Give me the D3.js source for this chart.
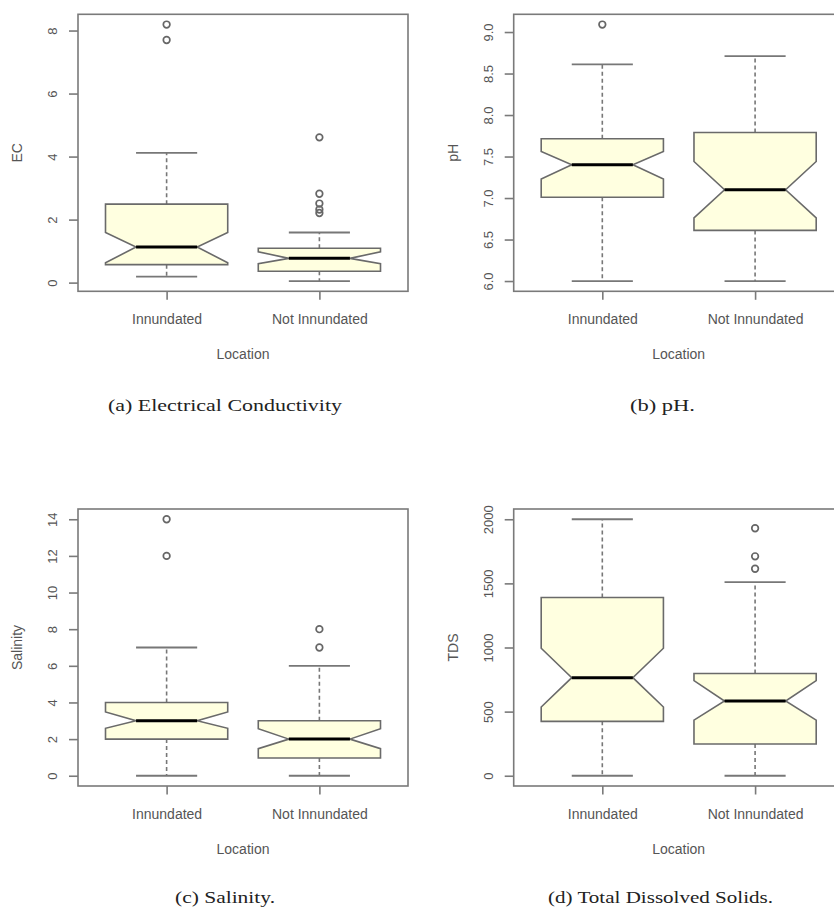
<!DOCTYPE html>
<html>
<head>
<meta charset="utf-8">
<script src="https://cdn.jsdelivr.net/npm/d3@7"></script>
<style>
  html, body { margin: 0; padding: 0; background: #fff; }
  svg { display: block; }
  .lab { font-family: "Liberation Sans", Arial, sans-serif; font-size: 14px; fill: #555; }
  .cap { font-family: "Liberation Serif", "DejaVu Serif", serif; font-size: 16px; fill: #222; }
</style>
</head>
<body>
<svg id="chart" width="834" height="909"></svg>
<script>
// ---- data ----
const locations = ["Innundated", "Not Innundated"];
// stats per group: [lowerWhisker, Q1, median, Q3, upperWhisker, notchLow, notchHigh]
const ecStats  = [[0.19, 0.57, 1.13, 2.49, 4.12, 0.63, 1.59],
                  [0.05, 0.36, 0.77, 1.09, 1.59, 0.60, 0.98]];
const ecOutliers = [[8.19, 7.70], [4.61, 2.82, 2.51, 2.32, 2.21]];
const ecTicks = [0, 2, 4, 6, 8];
const ecTickLabels = ["0", "2", "4", "6", "8"];

const phStats  = [[6.00, 7.01, 7.40, 7.715, 8.61, 7.23, 7.56],
                  [6.00, 6.61, 7.10, 7.79, 8.71, 6.76, 7.44]];
const phOutliers = [[9.09], []];
const phTicks = [6.0, 6.5, 7.0, 7.5, 8.0, 8.5, 9.0];
const phTickLabels = ["6.0", "6.5", "7.0", "7.5", "8.0", "8.5", "9.0"];

const salStats = [[0, 2, 3, 4, 7, 2.59, 3.48],
                  [0, 0.97, 2, 3, 6, 1.48, 2.57]];
const salOutliers = [[14, 12], [8, 7]];
const salTicks = [0, 2, 4, 6, 8, 10, 12, 14];
const salTickLabels = ["0", "2", "4", "6", "8", "10", "12", "14"];

const tdsStats = [[0, 424, 765, 1390, 2000, 536, 994],
                  [0, 247, 583, 797, 1510, 434, 742]];
const tdsOutliers = [[], [1930, 1711, 1614]];
const tdsTicks = [0, 500, 1000, 1500, 2000];
const tdsTickLabels = ["0", "500", "1000", "1500", "2000"];

const yTitles = ["EC", "pH", "Salinity", "TDS"];
const xTitle = "Location";
const captions = ["(a) Electrical Conductivity", "(b) pH.", "(c) Salinity.", "(d) Total Dissolved Solids."];

// ---- layout ----
const svg = d3.select("#chart");
const panels = [
  {stats: ecStats,  out: ecOutliers,  ticks: ecTicks,  labels: ecTickLabels,  left: 78,    top: 14.3,  cap: {x: 108, w: 234, y: 411}},
  {stats: phStats,  out: phOutliers,  ticks: phTicks,  labels: phTickLabels,  left: 513.7, top: 14.3,  cap: {x: 630, w: 65,  y: 411}},
  {stats: salStats, out: salOutliers, ticks: salTicks, labels: salTickLabels, left: 78,    top: 509,   cap: {x: 175, w: 100, y: 903}},
  {stats: tdsStats, out: tdsOutliers, ticks: tdsTicks, labels: tdsTickLabels, left: 513.7, top: 509,   cap: {x: 548, w: 225, y: 902.5}}
];
const PW = 330, PH = 277;
const frameCol = "#7a7a7a", boxCol = "#6a6a6a", whiskCol = "#777";

panels.forEach((p, i) => {
  const g = svg.append("g");
  const L = p.left, R = p.left + PW, T = p.top, B = p.top + PH;

  // y range: data range extended by 4% (as R does)
  const allVals = p.stats.flatMap(s => [s[0], s[4]]).concat(p.out.flat());
  const mn = d3.min(allVals), mx = d3.max(allVals), ext = (mx - mn) * 0.04;
  const y = d3.scaleLinear().domain([mn - ext, mx + ext]).range([B, T]);
  const x = d3.scaleLinear().domain([0.42, 2.58]).range([L, R]);
  const unit = x(1) - x(0);
  const hw = 0.4 * unit, cw = 0.2 * unit, nw = 0.2 * unit;

  // boxes
  p.stats.forEach((s, k) => {
    const cx = x(k + 1);
    const [lo, q1, med, q3, hi, nlo, nhi] = s;
    // whiskers
    g.append("line").attr("x1", cx).attr("x2", cx).attr("y1", y(q3)).attr("y2", y(hi))
      .attr("stroke", whiskCol).attr("stroke-width", 1.6).attr("stroke-dasharray", "4,3");
    g.append("line").attr("x1", cx).attr("x2", cx).attr("y1", y(q1)).attr("y2", y(lo))
      .attr("stroke", whiskCol).attr("stroke-width", 1.6).attr("stroke-dasharray", "4,3");
    [lo, hi].forEach(v => g.append("line").attr("x1", cx - cw).attr("x2", cx + cw)
      .attr("y1", y(v)).attr("y2", y(v)).attr("stroke", whiskCol).attr("stroke-width", 1.8));
    // notched box
    const pts = [[cx - hw, y(q1)], [cx - hw, y(nlo)], [cx - nw, y(med)], [cx - hw, y(nhi)], [cx - hw, y(q3)],
                 [cx + hw, y(q3)], [cx + hw, y(nhi)], [cx + nw, y(med)], [cx + hw, y(nlo)], [cx + hw, y(q1)]];
    g.append("polygon").attr("points", pts.map(d => d.join(",")).join(" "))
      .attr("fill", "#ffffe0").attr("stroke", boxCol).attr("stroke-width", 1.6);
    g.append("line").attr("x1", cx - nw).attr("x2", cx + nw).attr("y1", y(med)).attr("y2", y(med))
      .attr("stroke", "#000").attr("stroke-width", 3);
    // outliers
    p.out[k].forEach(v => g.append("circle").attr("cx", cx).attr("cy", y(v)).attr("r", 3.3)
      .attr("fill", "none").attr("stroke", "#666").attr("stroke-width", 1.7));
  });

  // frame
  g.append("rect").attr("x", L).attr("y", T).attr("width", PW).attr("height", PH)
    .attr("fill", "none").attr("stroke", frameCol).attr("stroke-width", 1.6);

  // y axis
  const ya = g.append("g").attr("transform", `translate(${L},0)`)
    .call(d3.axisLeft(y).tickValues(p.ticks).tickFormat((d, j) => p.labels[j]).tickSize(9).tickSizeOuter(0));
  ya.select(".domain").remove();
  ya.selectAll(".tick line").attr("stroke", frameCol).attr("stroke-width", 1.6);
  ya.selectAll(".tick text").attr("class", "lab").attr("x", 0).attr("y", 0).attr("dy", null)
    .attr("text-anchor", "middle").attr("transform", "translate(-21,0) rotate(-90)")
    .style("font-size", "13px");

  // x axis
  const xa = g.append("g").attr("transform", `translate(0,${B})`)
    .call(d3.axisBottom(x).tickValues([1, 2]).tickFormat((d) => locations[d - 1]).tickSize(8.5).tickSizeOuter(0));
  xa.select(".domain").remove();
  xa.selectAll(".tick line").attr("stroke", frameCol).attr("stroke-width", 1.6);
  xa.selectAll(".tick text").attr("class", "lab").attr("y", 0).attr("dy", null)
    .attr("transform", "translate(0,32.5)");

  // titles
  g.append("text").attr("class", "lab").attr("text-anchor", "middle")
    .attr("x", (L + R) / 2).attr("y", B + 67.5).text(xTitle);
  g.append("text").attr("class", "lab").attr("text-anchor", "middle")
    .attr("transform", `translate(${L - 56},${(T + B) / 2}) rotate(-90)`).text(yTitles[i]);

  // caption
  svg.append("text").attr("class", "cap").attr("x", p.cap.x).attr("y", p.cap.y)
    .attr("textLength", p.cap.w).attr("lengthAdjust", "spacingAndGlyphs").text(captions[i]);
});
</script>
</body>
</html>
